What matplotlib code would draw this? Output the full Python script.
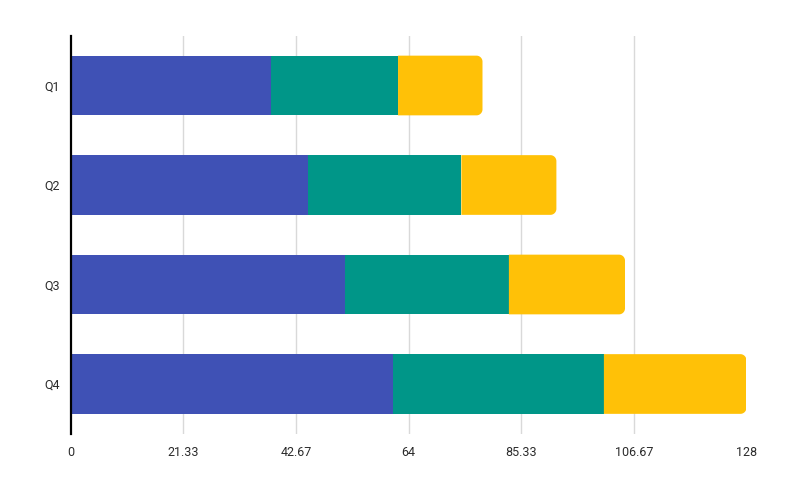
import matplotlib
matplotlib.use("Agg")
import matplotlib.pyplot as plt
from matplotlib.patches import Polygon
import numpy as np

categories = ["Q1", "Q2", "Q3", "Q4"]
series_a = [38, 45, 52, 61]
series_b = [24, 29, 31, 40]
series_c = [16, 18, 22, 27]
xticks = [0, 21.33, 42.67, 64, 85.33, 106.67, 128]
xtick_labels = ["0", "21.33", "42.67", "64", "85.33", "106.67", "128"]

colors = ["#3F51B5", "#009688", "#FFC107"]

plt.rcParams['font.family'] = ['Roboto', 'DejaVu Sans']

fig = plt.figure(figsize=(8, 5), dpi=100)
ax = fig.add_axes([0.0885, 0.1325, 0.8445, 0.796])

y = np.arange(len(categories))
h = 0.6
a = np.array(series_a, dtype=float)
b = np.array(series_b, dtype=float)
c = np.array(series_c, dtype=float)

ax.barh(y, a, height=h, color=colors[0], zorder=2)
ax.barh(y, b, left=a, height=h, color=colors[1], zorder=2)
bars_c = ax.barh(y, c, left=a + b, height=h, color=colors[2], zorder=2)

ax.set_xlim(0, 128)
ax.set_ylim(3.5, -0.5)

# rounded right corners for the last segment (replace rectangles by rounded polygons)
fig.canvas.draw()
bbox = ax.get_window_extent()
px_per_x = bbox.width / 128.0
px_per_y = bbox.height / 4.0
r_px = 6.0
rx = r_px / px_per_x
ry = r_px / px_per_y
t = np.linspace(0, np.pi / 2, 20)
for p in bars_c:
    x0, y0, w, hh = p.get_x(), p.get_y(), p.get_width(), p.get_height()
    x1, y1 = x0 + w, y0 + hh
    pts = [(x0, y0), (x1 - rx, y0)]
    cx, cy = x1 - rx, y0 + ry
    pts += [(cx + rx * np.sin(tt), cy - ry * np.cos(tt)) for tt in t]
    cx, cy = x1 - rx, y1 - ry
    pts += [(cx + rx * np.cos(tt), cy + ry * np.sin(tt)) for tt in t]
    pts += [(x0, y1)]
    p.set_visible(False)
    ax.add_patch(Polygon(pts, closed=True, facecolor=colors[2],
                         edgecolor="none", linewidth=0, zorder=2))

ax.set_yticks(y)
ax.set_yticklabels(categories)
ax.set_xticks(xticks)
ax.set_xticklabels(xtick_labels)
ax.tick_params(axis='both', length=0, labelsize=9, labelcolor="#2b2b2b")
ax.tick_params(axis='x', pad=9)
ax.tick_params(axis='y', pad=8)

# vertical gridlines (not at 0 or the end of the axis)
for xt in xticks[1:-1]:
    ax.axvline(xt, color="#d9d9d9", linewidth=1, zorder=0)

for s in ["top", "right", "bottom"]:
    ax.spines[s].set_visible(False)
ax.spines["left"].set_color("#000000")
ax.spines["left"].set_linewidth(1.6)
ax.spines["left"].set_zorder(3)

fig.savefig("out.png", dpi=100)
